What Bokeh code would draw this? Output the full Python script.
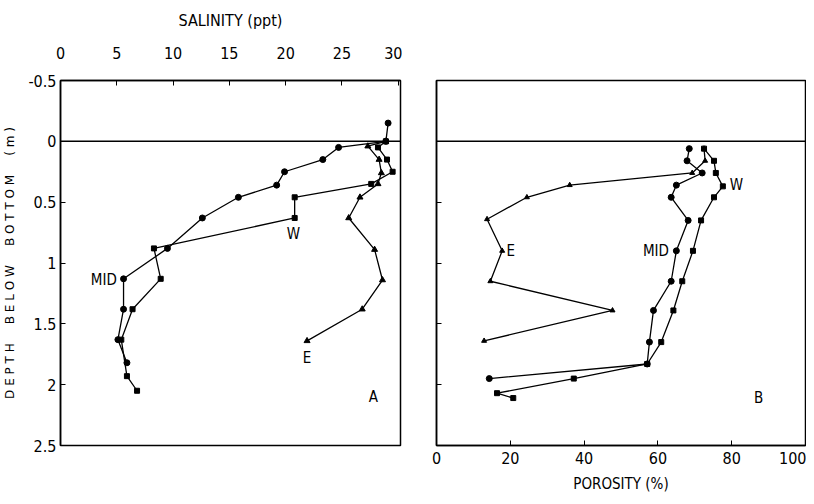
from bokeh.plotting import figure
from bokeh.models import Range1d, FixedTicker, Span, Label
from bokeh.layouts import row
from bokeh.embed import file_html
from bokeh.resources import INLINE

# ---------------- data ----------------
# Panel A: salinity (ppt) vs depth below bottom (m)
sal_mid_depth = [-0.15, 0.0, 0.05, 0.15, 0.25, 0.36, 0.46, 0.63, 0.88, 1.13, 1.38, 1.63, 1.82]
sal_mid = [29.1, 28.9, 24.7, 23.3, 19.9, 19.2, 15.8, 12.6, 9.5, 5.6, 5.6, 5.1, 5.9]

sal_w_depth = [0.0, 0.05, 0.15, 0.25, 0.35, 0.46, 0.63, 0.88, 1.13, 1.38, 1.63, 1.93, 2.05]
sal_w = [28.9, 28.2, 29.0, 29.5, 27.6, 20.8, 20.8, 8.3, 8.9, 6.4, 5.4, 5.9, 6.8]

sal_e_depth = [0.0, 0.04, 0.15, 0.26, 0.35, 0.46, 0.63, 0.89, 1.14, 1.38, 1.64]
sal_e = [28.9, 27.3, 28.3, 28.5, 28.2, 26.6, 25.6, 27.9, 28.6, 26.8, 21.9]

# Panel B: porosity (%) vs depth below bottom (m)
por_mid_depth = [0.06, 0.16, 0.26, 0.36, 0.46, 0.65, 0.90, 1.15, 1.39, 1.65, 1.83, 1.95]
por_mid = [68.5, 67.9, 72.0, 65.0, 63.6, 68.2, 65.0, 63.6, 58.8, 57.7, 57.1, 14.3]

por_w_depth = [0.06, 0.16, 0.26, 0.37, 0.46, 0.65, 0.90, 1.15, 1.39, 1.65, 1.83, 1.95, 2.07, 2.11]
por_w = [72.5, 75.2, 75.7, 77.6, 75.2, 71.7, 69.5, 66.6, 64.2, 60.9, 57.1, 37.2, 16.4, 20.8]

por_e_depth = [0.06, 0.16, 0.26, 0.36, 0.46, 0.64, 0.90, 1.15, 1.39, 1.64]
por_e = [72.5, 72.8, 69.3, 36.1, 24.5, 13.7, 17.8, 14.6, 47.7, 12.9]

depth_ticks = [-0.5, 0, 0.5, 1, 1.5, 2, 2.5]
depth_tick_labels = ["-0.5", "0", "0.5", "1", "1.5", "2", "2.5"]
sal_ticks = [0, 5, 10, 15, 20, 25, 30]
por_ticks = [0, 20, 40, 60, 80, 100]

FONT = "DejaVu Sans Condensed"
LAB_FONT = "DejaVu Sans"
FS = "15px"
NB = "\u00a0"


def style(p):
    p.grid.visible = False
    p.outline_line_color = "black"
    p.outline_line_width = 1.5
    p.outline_line_alpha = 1.0
    p.background_fill_color = "white"
    p.border_fill_color = "white"
    for ax in p.axis:
        ax.axis_line_color = "black"
        ax.axis_line_width = 1.5
        ax.major_tick_in = 5
        ax.major_tick_out = 0
        ax.major_tick_line_color = "black"
        ax.minor_tick_line_color = None
        ax.major_label_text_font = FONT
        ax.major_label_text_font_size = "16px"
        ax.major_label_text_color = "black"
        ax.axis_label_text_font = FONT
        ax.axis_label_text_font_size = "16px"
        ax.axis_label_text_font_style = "normal"
        ax.axis_label_text_color = "black"


def series(p, x, y, marker, size):
    p.line(x, y, line_color="black", line_width=1.3)
    p.scatter(x, y, marker=marker, size=size, fill_color="black", line_color="black")


def spaced(words):
    return (NB * 5).join(" ".join(w) for w in words)


# ---------------- panel A ----------------
p1 = figure(width=402, height=496, x_range=Range1d(0, 30.2), y_range=Range1d(2.5, -0.5),
            x_axis_location="above", output_backend="svg", toolbar_location=None,
            min_border_left=59, min_border_right=2, min_border_top=80, min_border_bottom=51)
style(p1)
p1.xaxis.ticker = FixedTicker(ticks=sal_ticks)
p1.xaxis.axis_label = "SALINITY (ppt)"
p1.xaxis.major_label_standoff = 22
p1.xaxis.axis_label_standoff = 14
p1.yaxis.ticker = FixedTicker(ticks=depth_ticks)
p1.yaxis.major_label_overrides = {t: s for t, s in zip(depth_ticks, depth_tick_labels)}
p1.yaxis.major_label_standoff = 4
p1.yaxis.axis_label = spaced(["DEPTH", "BELOW", "BOTTOM", "(m)"])
p1.yaxis.axis_label_text_font = LAB_FONT
p1.yaxis.axis_label_text_font_size = "12px"
p1.yaxis.axis_label_standoff = 8

p1.add_layout(Span(location=0, dimension="width", line_color="black", line_width=1.5))
series(p1, sal_e, sal_e_depth, "triangle", 6)
series(p1, sal_w, sal_w_depth, "square", 5)
series(p1, sal_mid, sal_mid_depth, "circle", 6)

for txt, x, y, align in [("W", 20.7, 0.76, "center"), ("E", 21.9, 1.78, "center"),
                         ("MID", 5.0, 1.14, "right"), ("A", 27.8, 2.1, "center")]:
    p1.add_layout(Label(x=x, y=y, text=txt, text_font=FONT, text_font_size=FS,
                        text_align=align, text_baseline="middle", text_color="black"))

# ---------------- panel B ----------------
p2 = figure(width=404, height=496, x_range=Range1d(0, 100), y_range=Range1d(2.5, -0.5),
            output_backend="svg", toolbar_location=None,
            min_border_left=34, min_border_right=1, min_border_top=80, min_border_bottom=51)
style(p2)
p2.xaxis.ticker = FixedTicker(ticks=por_ticks)
p2.xaxis.axis_label = "POROSITY (%)"
p2.xaxis.major_label_standoff = 6
p2.xaxis.axis_label_standoff = 8
p2.xaxis.axis_label_text_font_size = "15px"
p2.yaxis.ticker = FixedTicker(ticks=depth_ticks)
p2.yaxis.major_label_overrides = {t: "" for t in depth_ticks}

p2.add_layout(Span(location=0, dimension="width", line_color="black", line_width=1.5))
series(p2, por_e, por_e_depth, "triangle", 5)
series(p2, por_w, por_w_depth, "square", 5)
series(p2, por_mid, por_mid_depth, "circle", 6)

for txt, x, y, align in [("E", 19.0, 0.90, "left"), ("MID", 63.0, 0.90, "right"),
                         ("W", 79.5, 0.36, "left"), ("B", 87.3, 2.11, "center")]:
    p2.add_layout(Label(x=x, y=y, text=txt, text_font=FONT, text_font_size=FS,
                        text_align=align, text_baseline="middle", text_color="black"))

layout = row(p1, p2)
open("out.html", "w").write(file_html(layout, INLINE))
